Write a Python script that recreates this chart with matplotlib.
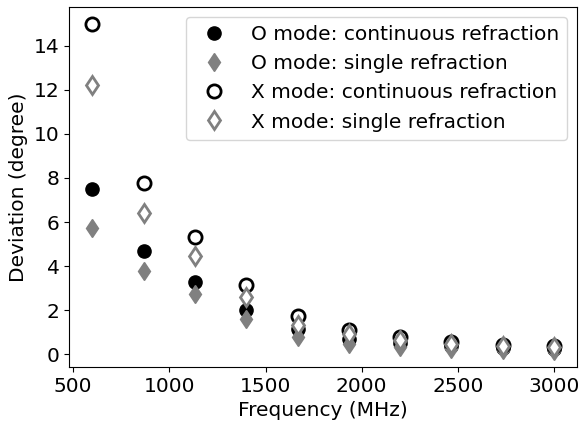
import matplotlib
matplotlib.use('Agg')
import matplotlib.pyplot as plt

freq = [600, 867, 1133, 1400, 1667, 1933, 2200, 2467, 2733, 3000]
o_cont = [7.51, 4.67, 3.30, 2.02, 1.13, 0.70, 0.50, 0.36, 0.28, 0.22]
o_single = [5.72, 3.79, 2.74, 1.61, 0.79, 0.48, 0.35, 0.25, 0.20, 0.16]
x_cont = [15.0, 7.78, 5.33, 3.16, 1.73, 1.10, 0.78, 0.56, 0.44, 0.36]
x_single = [12.22, 6.43, 4.47, 2.62, 1.31, 0.90, 0.65, 0.48, 0.38, 0.32]
xticks = [500, 1000, 1500, 2000, 2500, 3000]
yticks = [0, 2, 4, 6, 8, 10, 12, 14]

plt.rcParams['font.size'] = 14.5

fig, ax = plt.subplots(figsize=(5.8, 4.23), dpi=100)
ax.plot(freq, o_cont, 'o', color='black', ms=9.5, label='O mode: continuous refraction')
ax.plot(freq, o_single, 'd', color='grey', ms=9.5, label='O mode: single refraction')
ax.plot(freq, x_cont, 'o', mfc='white', mec='black', mew=2, ms=9.5, label='X mode: continuous refraction')
ax.plot(freq, x_single, 'd', mfc='white', mec='grey', mew=2, ms=9.5, label='X mode: single refraction')

ax.set_xlabel('Frequency (MHz)')
ax.set_ylabel('Deviation (degree)')
ax.set_xticks(xticks)
ax.set_yticks(yticks)
ax.legend(loc='upper right')
fig.subplots_adjust(left=0.1195, right=0.995, top=0.983, bottom=0.132)
fig.savefig('out.png', dpi=100)
